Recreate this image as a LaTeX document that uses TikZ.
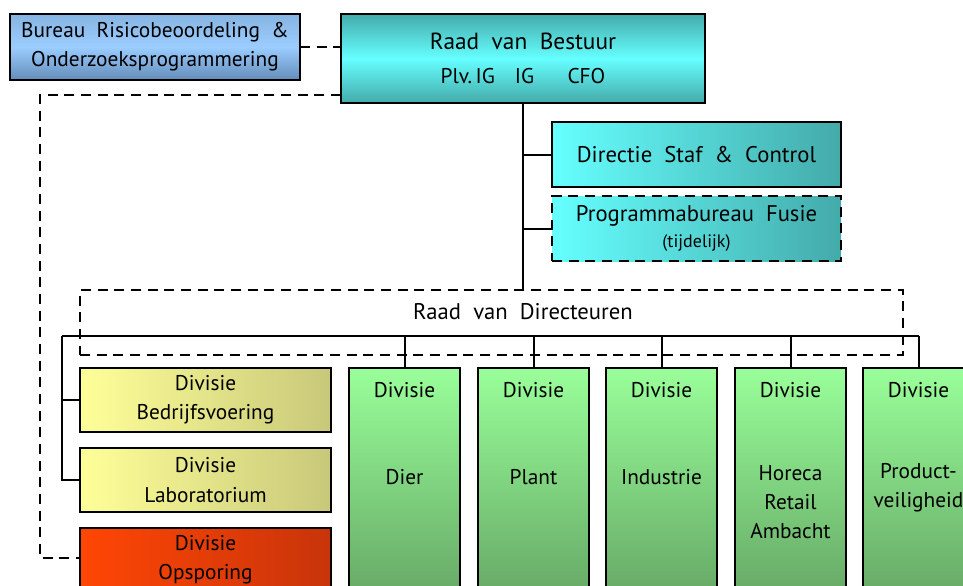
\documentclass[tikz,border=0pt]{standalone}
\usepackage{fontspec}
\setmainfont[WordSpace=2]{PT Sans}
\usepackage{xcolor}
\usetikzlibrary{positioning,calc}

\definecolor{bureaumid}{RGB}{155,205,255}
\definecolor{bureautop}{RGB}{135,180,225}
\definecolor{bureaubot}{RGB}{100,140,185}
\definecolor{cyanlight}{RGB}{102,255,255}
\definecolor{tealdark}{RGB}{68,170,170}
\definecolor{yellowlight}{RGB}{255,255,153}
\definecolor{yellowdark}{RGB}{200,200,122}
\definecolor{orangelight}{RGB}{255,70,5}
\definecolor{orangedark}{RGB}{200,52,10}
\definecolor{greenlight}{RGB}{153,255,153}
\definecolor{greendark}{RGB}{98,160,98}

\begin{document}
\begin{tikzpicture}[
    x=0.75pt, y=-0.75pt,
    box/.style={rectangle, draw=black, line width=2.2pt, anchor=north west, outer sep=0pt, inner sep=0pt, align=center, font=\fontsize{16}{19}\selectfont},
    bureau/.style={box, top color=bureautop, bottom color=bureaubot, middle color=bureaumid, minimum width=217.5pt, minimum height=49.5pt},
    board/.style={box, top color=tealdark, bottom color=tealdark, middle color=cyanlight, minimum width=273pt, minimum height=66.75pt},
    staff/.style={box, left color=cyanlight, right color=tealdark, minimum width=216.75pt, minimum height=48.75pt, font=\fontsize{17}{20}\selectfont},
    divyellow/.style={box, left color=yellowlight, right color=yellowdark, minimum width=188.25pt, minimum height=48pt},
    divred/.style={box, left color=orangelight, right color=orangedark, minimum width=188.25pt, minimum height=48pt},
    divgreen/.style={box, top color=greenlight, bottom color=greendark, minimum width=83.25pt, minimum height=187.5pt},
    txt/.style={font=\fontsize{16}{19}\selectfont, align=center, inner sep=0pt},
    solid line/.style={line width=1.5pt},
    dash line/.style={line width=2.2pt, dash pattern=on 7.5pt off 5pt},
]
\useasboundingbox (0,0) rectangle (963,585);
\clip (0,0) rectangle (963,585);

% Top level
\node[bureau, font=\fontsize{16}{19}\selectfont] (bureau) at (10,14) {Bureau Risicobeoordeling \&\\[3pt]Onderzoeksprogrammering};
\node[board] (rvb) at (341,14) {{\fontsize{17.5}{20}\selectfont Raad van Bestuur}\\[6pt]Plv.\,IG\hspace{15pt}IG\hspace{25pt}CFO};

% Staff units
\node[staff] (staf) at (552,122) {Directie Staf \& Control};
\node[staff, dash line] (fusie) at (552,196) {Programmabureau Fusie\\[-1pt]{\fontsize{13.5}{15}\selectfont (tijdelijk)}};

% Board of directors
\node[box, dash line, minimum width=617.25pt, minimum height=48.75pt] (rvd) at (80,290) {};
\node[txt, font=\fontsize{17}{20}\selectfont] (rvdtext) at ($(rvd.north -| rvb.south)+(0,22)$) {Raad van Directeuren};

% Divisions
\node[divyellow] (bedrijf) at (80,368) {Divisie\\[3pt]Bedrijfsvoering};
\node[divyellow] (lab) at (80,448) {Divisie\\[3pt]Laboratorium};
\node[divred] (opsporing) at (80,528) {Divisie\\[3pt]Opsporing};

\node[divgreen] (dier) at (349,368) {};
\node[divgreen] (plant) at (478,368) {};
\node[divgreen] (industrie) at (606,368) {};
\node[divgreen] (horeca) at (735,368) {};
\node[divgreen] (product) at (863,368) {};

\node[txt] at ($(dier.north)+(0,22)$) {Divisie};
\node[txt] at ($(plant.north)+(0,22)$) {Divisie};
\node[txt] at ($(industrie.north)+(0,22)$) {Divisie};
\node[txt] at ($(horeca.north)+(0,22)$) {Divisie};
\node[txt] at ($(product.north)+(0,22)$) {Divisie};

\node[txt] at ($(dier.north)+(0,109)$) {Dier};
\node[txt] at ($(plant.north)+(0,109)$) {Plant};
\node[txt] at ($(industrie.north)+(0,109)$) {Industrie};
\node[txt, font=\fontsize{16}{21.5}\selectfont] at ($(horeca.north)+(0,134)$) {Horeca\\Retail\\Ambacht};
\node[txt, font=\fontsize{16}{21.5}\selectfont] at ($(product.north)+(0,120)$) {Product-\\veiligheid};

% Connections
\coordinate (busL) at (62,336);
\coordinate (busR) at (product.north |- busL);

\draw[dash line] (bureau.east) -- (bureau.east -| rvb.west);
\draw[dash line] ($(rvb.south west)+(0,-8)$) -| (40,558) -- (40,558 -| opsporing.west);

\draw[solid line] (rvb.south) -- (rvb.south |- rvd.north);
\draw[solid line] (rvb.south |- staf.west) -- (staf.west);
\draw[solid line] (rvb.south |- fusie.west) -- (fusie.west);

\draw[solid line] (busL) -- (busR);
\draw[solid line] (busL) |- (lab.west);
\draw[solid line] (busL |- bedrijf.west) -- (bedrijf.west);
\draw[solid line] (dier.north |- busL) -- (dier.north);
\draw[solid line] (plant.north |- busL) -- (plant.north);
\draw[solid line] (industrie.north |- busL) -- (industrie.north);
\draw[solid line] (horeca.north |- busL) -- (horeca.north);
\draw[solid line] (busR) -- (product.north);

\end{tikzpicture}
\end{document}
